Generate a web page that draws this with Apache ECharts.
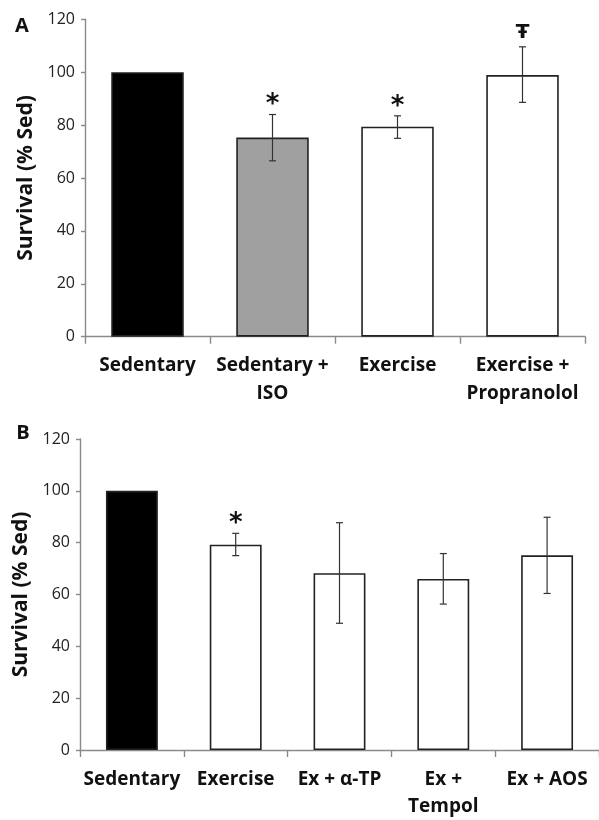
<!DOCTYPE html>
<html>
<head>
<meta charset="utf-8">
<script src="https://cdn.jsdelivr.net/npm/echarts@6/dist/echarts.min.js"></script>
<style>
html,body{margin:0;padding:0;background:#fff;}
#chart{width:599px;height:820px;}
</style>
</head>
<body>
<div id="chart"></div>
<script>
// Panel A data
const catsA = ['Sedentary', 'Sedentary +\nISO', 'Exercise', 'Exercise +\nPropranolol'];
const meanA = [100, 75.3, 79.4, 98.9];
const errHighA = [null, 84.0, 83.5, 109.6];
const errLowA = [null, 66.5, 75.0, 88.6];
const sigA = ['', '*', '*', 'Ŧ'];
const fillA = ['#000000', '#a0a0a0', '#ffffff', '#ffffff'];

// Panel B data
const catsB = ['Sedentary', 'Exercise', 'Ex + α-TP', 'Ex +\nTempol', 'Ex + AOS'];
const meanB = [100, 79.2, 68.2, 66.0, 75.1];
const errHighB = [null, 83.6, 87.7, 75.8, 89.8];
const errLowB = [null, 75.0, 48.9, 56.3, 60.4];
const sigB = ['', '*', '', '', ''];
const fillB = ['#000000', '#ffffff', '#ffffff', '#ffffff', '#ffffff'];

// Y ticks
const yMin = 0, yMax = 120, yStep = 20;
const yTitle = 'Survival (% Sed)';
const panelLetters = ['A', 'B'];

const FONT = 'Open Sans';
const SYMFONT = 'DejaVu Sans';

function xAxisCfg(gridIndex, cats, margin, lh) {
  return {
    type: 'category', gridIndex: gridIndex, data: cats,
    axisLine: { show: true, lineStyle: { color: '#8a8a8a', width: 1.4 } },
    axisTick: { show: true, length: 7, lineStyle: { color: '#8a8a8a', width: 1.4 } },
    axisLabel: { interval: 0, margin: margin, color: '#111', fontFamily: FONT, fontWeight: 'bold', fontSize: 19, lineHeight: lh },
    splitLine: { show: false }
  };
}
function yAxisCfg(gridIndex, gap) {
  return {
    type: 'value', gridIndex: gridIndex, min: yMin, max: yMax, interval: yStep,
    name: yTitle, nameLocation: 'middle', nameGap: gap, nameRotate: 90,
    nameTextStyle: { fontFamily: FONT, fontWeight: 'bold', fontSize: 21, color: '#111' },
    axisLine: { show: true, lineStyle: { color: '#8a8a8a', width: 1.4 } },
    axisTick: { show: true, length: 4, lineStyle: { color: '#8a8a8a', width: 1.4 } },
    axisLabel: { margin: 10, color: '#222', fontFamily: FONT, fontSize: 16 },
    splitLine: { show: false }
  };
}

function barSeries(idx, mean, fill, gap) {
  return {
    type: 'bar', xAxisIndex: idx, yAxisIndex: idx, barCategoryGap: gap,
    data: mean.map((v, i) => ({ value: v, itemStyle: { color: fill[i] } })),
    itemStyle: { borderColor: '#222', borderWidth: 1.6 },
    emphasis: { disabled: true }, animation: false, z: 2
  };
}
function errSeries(idx, hi, lo) {
  return {
    type: 'custom', xAxisIndex: idx, yAxisIndex: idx, animation: false, z: 5,
    data: hi.map((h, i) => [i, lo[i] == null ? NaN : lo[i], h == null ? NaN : h]),
    renderItem: function (params, api) {
      const x = api.value(0), l = api.value(1), h = api.value(2);
      if (isNaN(l) || isNaN(h)) return null;
      const t = api.coord([x, h]), b = api.coord([x, l]);
      const c = 3.5;
      const st = { stroke: '#333', lineWidth: 1.2 };
      return { type: 'group', children: [
        { type: 'line', shape: { x1: t[0], y1: t[1], x2: b[0], y2: b[1] }, style: st },
        { type: 'line', shape: { x1: t[0] - c, y1: t[1], x2: t[0] + c, y2: t[1] }, style: st },
        { type: 'line', shape: { x1: b[0] - c, y1: b[1], x2: b[0] + c, y2: b[1] }, style: st }
      ]};
    }
  };
}
function sigSeries(idx, hi, sig) {
  return {
    type: 'custom', xAxisIndex: idx, yAxisIndex: idx, animation: false, z: 6,
    data: hi.map((h, i) => [i, h == null ? NaN : h]),
    renderItem: function (params, api) {
      const i = params.dataIndex;
      const s = sig[i];
      if (!s) return null;
      const p = api.coord([api.value(0), api.value(1)]);
      const isStar = s === '*';
      return { type: 'text', x: p[0], y: p[1] - (isStar ? 9 : 14), style: {
        text: s, align: 'center', verticalAlign: 'middle',
        font: 'bold ' + (isStar ? 26 : 20) + 'px "' + SYMFONT + '"', fill: '#111'
      }};
    }
  };
}

const chart = echarts.init(document.getElementById('chart'), null, { renderer: 'canvas' });
chart.setOption({
  backgroundColor: '#fff',
  animation: false,
  graphic: [
    { type: 'text', x: 22, y: 26, style: { text: panelLetters[0], align: 'center', verticalAlign: 'middle', font: 'bold 20px "Open Sans"', fill: '#111' } },
    { type: 'text', x: 23, y: 433, style: { text: panelLetters[1], align: 'center', verticalAlign: 'middle', font: 'bold 20px "Open Sans"', fill: '#111' } }
  ],
  grid: [
    { left: 85, top: 19.3, width: 500, height: 317.4 },
    { left: 80, top: 439, width: 521, height: 312.7 }
  ],
  xAxis: [ xAxisCfg(0, catsA, 15, 28), xAxisCfg(1, catsB, 16, 27) ],
  yAxis: [ yAxisCfg(0, 47), yAxisCfg(1, 45) ],
  series: [
    barSeries(0, meanA, fillA, '42%'),
    errSeries(0, errHighA, errLowA),
    sigSeries(0, errHighA, sigA),
    barSeries(1, meanB, fillB, '50%'),
    errSeries(1, errHighB, errLowB),
    sigSeries(1, errHighB, sigB)
  ]
});
</script>
</body>
</html>
